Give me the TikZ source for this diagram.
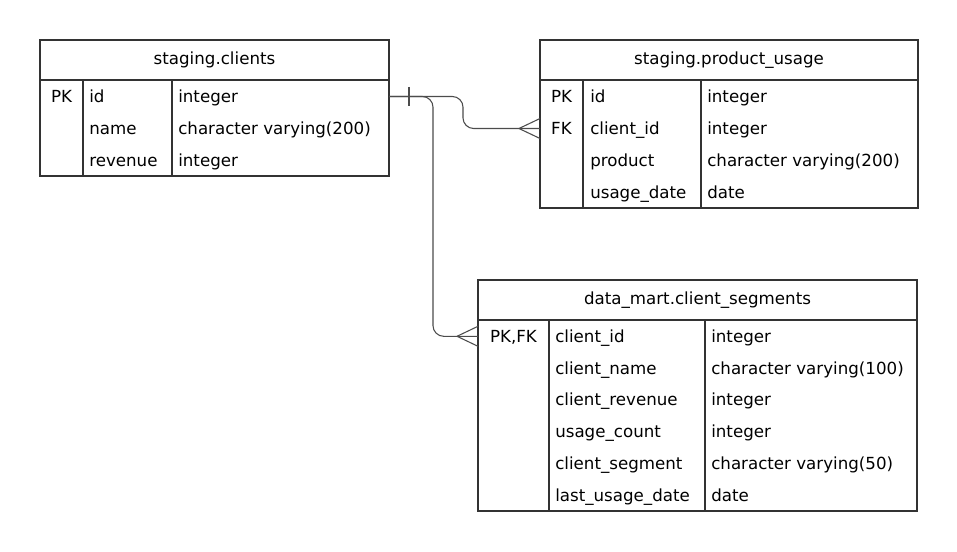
\documentclass[tikz,border=0pt]{standalone}
\usepackage{fontspec}
\setmainfont{DejaVu Sans}
\usepackage{tikz}
\usetikzlibrary{positioning}

\begin{document}
\begin{tikzpicture}[x=0.75pt,y=-0.75pt,node distance=0pt,
  tbl/.style={draw=black!80,line width=1.4pt,inner sep=0pt,outer sep=0pt,anchor=north west},
  hd/.style={tbl,minimum height=30pt,font=\fontsize{12.5}{15}\selectfont},
  bdy/.style={tbl,anchor=north},
  rule/.style={draw=black!80,line width=1.4pt},
  cell/.style={inner sep=0pt,text height=9pt,text depth=0pt,font=\fontsize{12.5}{15}\selectfont},
  key/.style={cell,anchor=center},
  fld/.style={cell,anchor=west},
  conn/.style={draw=black!70,line width=0.8pt}]
\useasboundingbox (0,0) rectangle (957,552);
% staging.clients
\node[hd,minimum width=261.75pt] (clh) at (40,40) {staging.clients};
\node[bdy,below=of clh,minimum width=261.75pt,minimum height=72pt] (clb) {};
\draw[rule] (clb.north west) ++(43,0) -- ++(0,96);
\draw[rule] (clb.north west) ++(132,0) -- ++(0,96);
\foreach \k/\f/\t [count=\i] in {PK/id/integer,/name/character varying(200),/revenue/integer}{
  \node[key] (cl-k\i) at (61.5,64.5+32*\i) {\k};
  \node[fld] (cl-f\i) at (89,64.5+32*\i) {\f};
  \node[fld] (cl-t\i) at (178,64.5+32*\i) {\t};
}
% staging.product_usage
\node[hd,minimum width=283.5pt] (puh) at (540,40) {staging.product\_usage};
\node[bdy,below=of puh,minimum width=283.5pt,minimum height=96pt] (pub) {};
\draw[rule] (pub.north west) ++(43,0) -- ++(0,128);
\draw[rule] (pub.north west) ++(161,0) -- ++(0,128);
\foreach \k/\f/\t [count=\i] in {PK/id/integer,FK/client\_id/integer,/product/character varying(200),/usage\_date/date}{
  \node[key] (pu-k\i) at (561.5,64.5+32*\i) {\k};
  \node[fld] (pu-f\i) at (590,64.5+32*\i) {\f};
  \node[fld] (pu-t\i) at (707,64.5+32*\i) {\t};
}
% data_mart.client_segments
\node[hd,minimum width=329.25pt] (csh) at (478,280) {data\_mart.client\_segments};
\node[bdy,below=of csh,minimum width=329.25pt,minimum height=143pt] (csb) {};
\draw[rule] (csb.north west) ++(71,0) -- ++(0,190.67);
\draw[rule] (csb.north west) ++(227,0) -- ++(0,190.67);
\foreach \k/\f/\t [count=\i] in {{PK,FK}/client\_id/integer,/client\_name/character varying(100),/client\_revenue/integer,/usage\_count/integer,/client\_segment/character varying(50),/last\_usage\_date/date}{
  \node[key] (cs-k\i) at (513.5,304.5+31.8*\i) {\k};
  \node[fld] (cs-f\i) at (555,304.5+31.8*\i) {\f};
  \node[fld] (cs-t\i) at (711,304.5+31.8*\i) {\t};
}
% relations
\coordinate (cl-out) at (clb.east |- cl-k1);
\coordinate (pu-in) at (pub.west |- pu-k2);
\coordinate (cs-in) at (csb.west |- cs-k1);
\coordinate (j1) at (463,0);
\coordinate (j2) at (433,0);
\draw[conn,rounded corners=8pt] (cl-out) -- (cl-out -| j1) -- (pu-in -| j1) -- (pu-in);
\draw[conn,rounded corners=8pt] (cl-out) -- (cl-out -| j2) -- (cs-in -| j2) -- (cs-in);
\draw[conn] (cl-out) ++(20,-9.5) -- ++(0,19);
\draw[conn] (pu-in) ++(-21,0) coordinate (pu-c) -- ++(21,-10) (pu-c) -- ++(21,10);
\draw[conn] (cs-in) ++(-21,0) coordinate (cs-c) -- ++(21,-10) (cs-c) -- ++(21,10);
\end{tikzpicture}
\end{document}
